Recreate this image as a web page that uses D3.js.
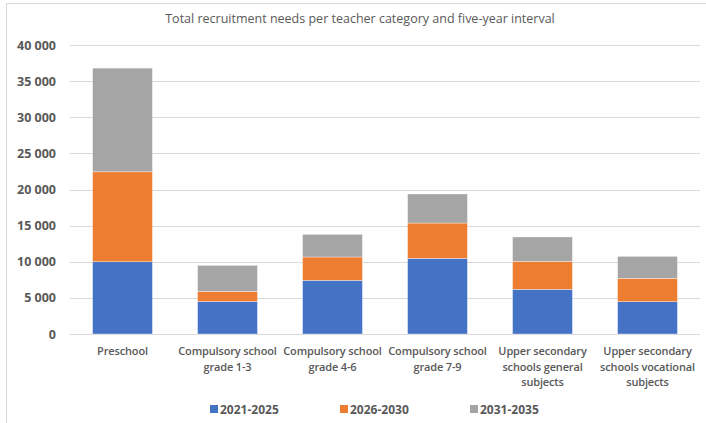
<!DOCTYPE html>
<html>
<head>
<meta charset="utf-8">
<script src="https://cdn.jsdelivr.net/npm/d3@7"></script>
<style>
  html, body { margin: 0; padding: 0; background: #fff; }
  svg { display: block; }
  text { font-family: "Open Sans", "Noto Sans", sans-serif; fill: #595959; }
</style>
</head>
<body>
<svg id="chart" width="706" height="423"></svg>
<script>
// Teacher categories (label lines) and recruitment needs per five-year interval
const categories = [
  ["Preschool"],
  ["Compulsory school", "grade 1-3"],
  ["Compulsory school", "grade 4-6"],
  ["Compulsory school", "grade 7-9"],
  ["Upper secondary", "schools general", "subjects"],
  ["Upper secondary", "schools vocational", "subjects"]
];
const seriesNames = ["2021-2025", "2026-2030", "2031-2035"];
const s2021 = [10000, 4500, 7430, 10470, 6180, 4470];
const s2026 = [12450, 1400, 3230, 4890, 3880, 3240];
const s2031 = [14350, 3600, 3140, 4020, 3370, 3040];
const colors = ["#4472C4", "#ED7D31", "#A5A5A5"];
const yTicks = [0, 5000, 10000, 15000, 20000, 25000, 30000, 35000, 40000];

const svg = d3.select("#chart");
const W = 706, H = 423;
const margin = { left: 70, right: 6, top: 45, bottom: 89 };

// chart frame
svg.append("rect")
  .attr("x", 6.5).attr("y", 3.5)
  .attr("width", W + 10).attr("height", H + 10)
  .attr("fill", "none").attr("stroke", "#D9D9D9").attr("stroke-width", 1);

svg.append("text")
  .attr("x", 360).attr("y", 23)
  .attr("text-anchor", "middle")
  .style("font-size", "12.5px")
  .text("Total recruitment needs per teacher category and five-year interval");

const keys = categories.map((c, i) => i);
const x = d3.scaleBand()
  .domain(keys)
  .range([margin.left, W - margin.right])
  .paddingInner(0.43).paddingOuter(0.215);
const y = d3.scaleLinear()
  .domain([0, 40000])
  .range([H - margin.bottom, margin.top]);

const fmt = v => d3.format(",")(v).replace(/,/g, " ");

// gridlines
svg.append("g")
  .selectAll("line")
  .data(yTicks)
  .join("line")
  .attr("x1", margin.left).attr("x2", W - margin.right)
  .attr("y1", d => Math.round(y(d)) + 0.5).attr("y2", d => Math.round(y(d)) + 0.5)
  .attr("stroke", "#D9D9D9").attr("stroke-width", 1);

// y axis labels
const yAxis = d3.axisLeft(y).tickValues(yTicks).tickFormat(fmt).tickSize(0).tickPadding(0);
const yg = svg.append("g").attr("transform", "translate(56,0)").call(yAxis);
yg.select(".domain").remove();
yg.selectAll("text")
  .attr("fill", "#595959")
  .style("font-size", "12.5px").style("font-weight", "bold")
  .style("font-family", "'Open Sans', sans-serif");

// stacked bars
const rows = keys.map(i => ({ i, a: s2021[i], b: s2026[i], c: s2031[i] }));
const stack = d3.stack().keys(["a", "b", "c"]);
const layers = stack(rows);

svg.append("g")
  .selectAll("g")
  .data(layers)
  .join("g")
  .attr("fill", (d, k) => colors[k])
  .selectAll("rect")
  .data(d => d)
  .join("rect")
  .attr("x", d => x(d.data.i))
  .attr("width", x.bandwidth())
  .attr("y", d => y(d[1]))
  .attr("height", d => y(d[0]) - y(d[1]))
  .attr("stroke", "#ffffff").attr("stroke-opacity", 0.6).attr("stroke-width", 0.6);

// category labels
const xl = svg.append("g");
categories.forEach((lines, i) => {
  const t = xl.append("text")
    .attr("text-anchor", "middle")
    .style("font-size", "11px").style("font-weight", "600")
    .style("letter-spacing", "-0.15px")
    .attr("x", x(i) + x.bandwidth() / 2)
    .attr("y", 355);
  lines.forEach((ln, j) => {
    t.append("tspan")
      .attr("x", x(i) + x.bandwidth() / 2)
      .attr("dy", j === 0 ? 0 : 15.5)
      .text(ln);
  });
});

// legend
const lg = svg.append("g");
seriesNames.forEach((name, k) => {
  const lx = 210 + k * 130;
  lg.append("rect")
    .attr("x", lx).attr("y", 405).attr("width", 8).attr("height", 8)
    .attr("fill", colors[k]);
  lg.append("text")
    .attr("x", lx + 10).attr("y", 413.5)
    .style("font-size", "12px").style("font-weight", "bold")
    .text(name);
});
</script>
</body>
</html>
